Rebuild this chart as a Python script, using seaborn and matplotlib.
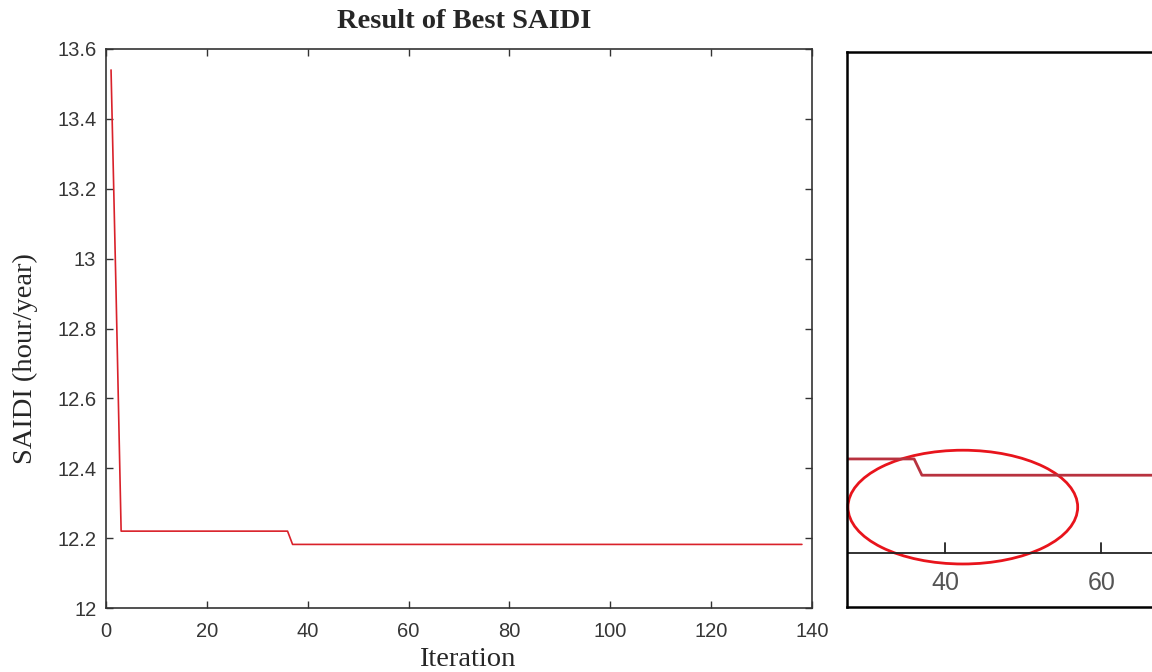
import numpy as np
import pandas as pd
import matplotlib
matplotlib.use("Agg")
import matplotlib.pyplot as plt
import seaborn as sns
from matplotlib.patches import Ellipse

# ---- data ----
iter_start = 1
iter_end = 138
saidi_first = [13.54, 12.9, 12.22]           # iterations 1..3
saidi_plateau1 = 12.22                       # iterations 3..36
saidi_plateau2 = 12.182                      # iterations 37..138
step_iter = 37

iterations = list(range(iter_start, iter_end + 1))
saidi = []
for it in iterations:
    if it <= 3:
        saidi.append(saidi_first[it - 1])
    elif it < step_iter:
        saidi.append(saidi_plateau1)
    else:
        saidi.append(saidi_plateau2)
df = pd.DataFrame({"Iteration": iterations, "SAIDI": saidi})

x_ticks = [0, 20, 40, 60, 80, 100, 120, 140]
y_ticks = [12, 12.2, 12.4, 12.6, 12.8, 13, 13.2, 13.4, 13.6]
y_labels = ["12", "12.2", "12.4", "12.6", "12.8", "13", "13.2", "13.4", "13.6"]
inset_ticks = [40, 60]

sns.set_style("white")
plt.rcParams["font.family"] = ["Liberation Sans", "DejaVu Sans"]

fig = plt.figure(figsize=(11.52, 6.72), dpi=100)
ax = fig.add_axes([106 / 1152, 1 - 608 / 672, (812 - 106) / 1152, (608 - 49) / 672])

sns.lineplot(data=df, x="Iteration", y="SAIDI", ax=ax, color="#d9212a", linewidth=1.2)
ax.set_xlim(0, 140)
ax.set_ylim(12, 13.6)
ax.set_xticks(x_ticks)
ax.set_yticks(y_ticks)
ax.set_yticklabels(y_labels)
ax.tick_params(direction="in", length=5, width=1, colors="#333333",
               labelcolor="#363636", labelsize=14.5, top=True, right=True,
               bottom=True, left=True)
ax.tick_params(axis="x", pad=10)
ax.tick_params(axis="y", pad=7)
for s in ax.spines.values():
    s.set_color("#333333")
    s.set_linewidth(1.2)
ax.set_xlabel("Iteration", family="Liberation Serif", fontsize=20.5)
ax.set_ylabel("SAIDI (hour/year)", family="Liberation Serif", fontsize=20.5)
ax.xaxis.label.set_va("center")
ax.yaxis.label.set_va("center")
ax.xaxis.set_label_coords((467 - 106) / 706, -(660 - 608) / 559)
ax.yaxis.set_label_coords((25 - 106) / 706, (608 - 359) / 559)
fig.text(464.5 / 1152, 1 - 22 / 672, "Result of Best SAIDI", family="Liberation Serif",
         fontsize=20.5, fontweight="bold", ha="center", va="center")

# ---- zoomed inset panel on the right ----
ax2 = fig.add_axes([847 / 1152, 1 - 607 / 672, (1160 - 847) / 1152, (607 - 52) / 672])
sns.lineplot(data=df, x="Iteration", y="SAIDI", ax=ax2, color="#b8323f", linewidth=2.0)
ax2.set_xlim(27.4, 67.5)
ax2.set_ylim(11.874, 13.171)
ax2.axhline(12.0, color="#222222", linewidth=1.3)
ax2.set_xticks([])
ax2.set_yticks([])
ax2.set_xlabel("")
ax2.set_ylabel("")
for t in inset_ticks:
    ax2.plot([t, t], [12.0, 12.024], color="#222222", linewidth=1.3)
    ax2.text(t, 11.93, str(t), ha="center", va="center", fontsize=18, color="#555555")
for s in ax2.spines.values():
    s.set_color("black")
    s.set_linewidth(1.8)
ax2.add_patch(Ellipse((0.37, 0.18), 0.734, 0.205, transform=ax2.transAxes,
                      fill=False, edgecolor="#e8141c", linewidth=2.0, clip_on=False))

fig.savefig("out.png", dpi=100)
